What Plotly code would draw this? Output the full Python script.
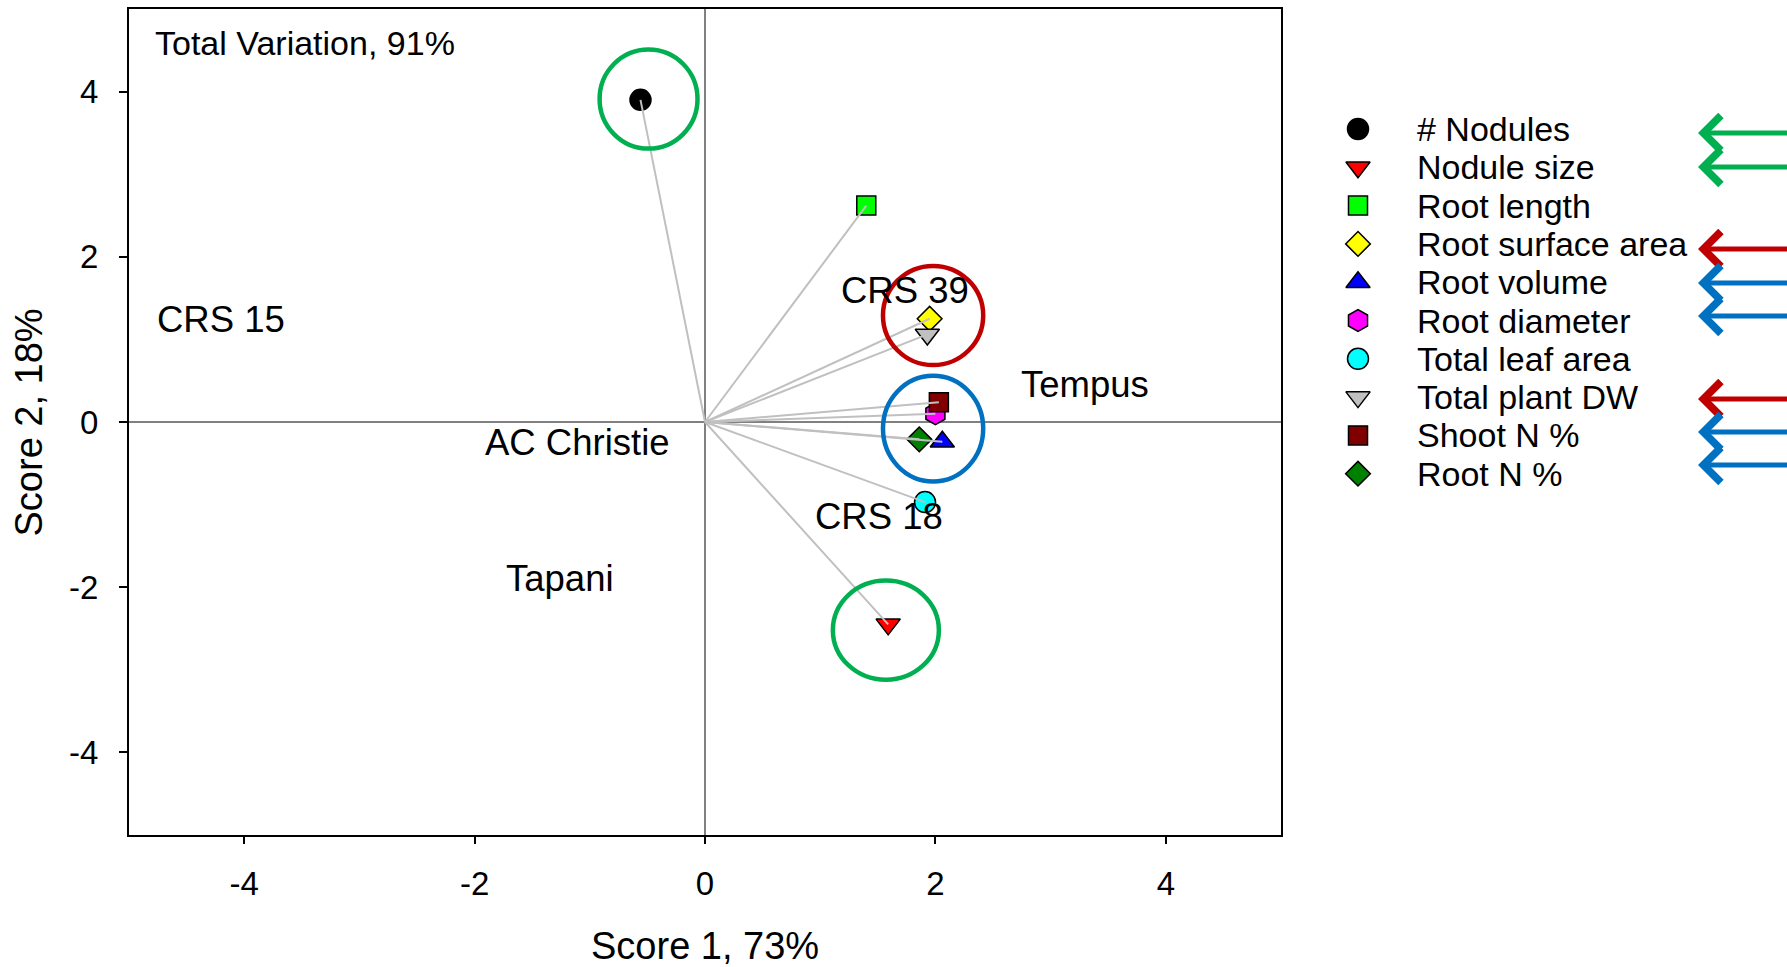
import plotly.graph_objects as go

# ---------------- data ----------------
variables = ["# Nodules", "Nodule size", "Root length", "Root surface area", "Root volume",
             "Root diameter", "Total leaf area", "Total plant DW", "Shoot N %", "Root N %"]
score1 = [-0.56, 1.59, 1.40, 1.95, 2.06, 2.00, 1.91, 1.93, 2.03, 1.86]
score2 = [3.90, -2.45, 2.62, 1.25, -0.24, 0.10, -0.97, 1.06, 0.24, -0.21]
symbols = ["circle", "triangle-down", "square", "diamond", "triangle-up",
           "hexagon", "circle", "triangle-down", "square", "diamond"]
fill_colors = ["#000000", "#FF0000", "#00FF00", "#FFFF00", "#0000FF",
               "#FF00FF", "#00FFFF", "#C0C0C0", "#800000", "#008000"]
arrow_groups = ["green", "green", None, "red", "blue", "blue", None, "red", "blue", "blue"]

cultivars = ["CRS 15", "AC Christie", "Tapani", "CRS 39", "Tempus", "CRS 18"]
cult_x = [-4.20, -1.11, -1.26, 1.74, 3.30, 1.51]
cult_y = [1.235, -0.25, -1.90, 1.59, 0.46, -1.14]

ellipse_cx = [-0.49, 1.57, 1.98, 1.98]
ellipse_cy = [3.91, -2.52, 1.29, -0.08]
ellipse_rx = [0.425, 0.46, 0.435, 0.435]
ellipse_ry = [0.60, 0.60, 0.60, 0.64]
ellipse_group = ["green", "green", "red", "blue"]

tick_vals = [-4, -2, 0, 2, 4]
tick_text = ["-4", "-2", "0", "2", "4"]

x_title = "Score 1, 73%"
y_title = "Score 2, 18%"
note = "Total Variation, 91%"

# ---------------- styles ----------------
W, H = 1787, 967
PL, PR, PT, PB = 129, 1281, 9, 835
FONT = "Liberation Sans, Arial, sans-serif"
group_colors = {"green": "#00B050", "red": "#C00000", "blue": "#0070C0"}
size_map = {"circle": 21, "square": 19, "diamond": 19, "triangle-up": 21,
            "triangle-down": 21, "hexagon": 22}
sizes = [size_map[s] for s in symbols]

fig = go.Figure()

# markers
fig.add_trace(go.Scatter(
    x=score1, y=score2, mode="markers", xaxis="x", yaxis="y",
    marker=dict(symbol=symbols, color=fill_colors, size=sizes, opacity=1,
                line=dict(color="black", width=1.5)),
    showlegend=False, hoverinfo="skip"))

# loading vectors from the origin (drawn over the markers as in the reference)
lx, ly = [], []
for a, b in zip(score1, score2):
    lx += [0, a, None]
    ly += [0, b, None]
fig.add_trace(go.Scatter(x=lx, y=ly, mode="lines", xaxis="x", yaxis="y",
                         line=dict(color="#C0C0C0", width=2),
                         showlegend=False, hoverinfo="skip"))

# manual legend on an overlay pixel axis
LEG_X, LEG_TX, LEG_Y0, LEG_DY = 1358, 1415, 129, 38.3
leg_y = [LEG_Y0 + i * LEG_DY for i in range(len(variables))]
fig.add_trace(go.Scatter(
    x=[LEG_X] * len(variables), y=leg_y, mode="markers", xaxis="x2", yaxis="y2",
    marker=dict(symbol=symbols, color=fill_colors, size=sizes, opacity=1,
                line=dict(color="black", width=1.5)),
    showlegend=False, hoverinfo="skip"))

annotations = []
for name, yy in zip(variables, leg_y):
    annotations.append(dict(x=LEG_TX, y=yy, xref="x2", yref="y2", text=name,
                            showarrow=False, xanchor="left", yanchor="middle",
                            font=dict(family=FONT, size=34, color="black")))

# arrows next to legend
ARROW_Y = {0: 133, 1: 167, 3: 249, 4: 283, 5: 316, 7: 399, 8: 432, 9: 465}
for i, g in enumerate(arrow_groups):
    if g is None:
        continue
    annotations.append(dict(x=1698, y=ARROW_Y[i], xref="x2", yref="y2", ax=1800, ay=ARROW_Y[i],
                            axref="x2", ayref="y2", text="", showarrow=True,
                            arrowhead=4, arrowsize=1.35, arrowwidth=5,
                            arrowcolor=group_colors[g]))

# cultivar labels
for name, xx, yy in zip(cultivars, cult_x, cult_y):
    annotations.append(dict(x=xx, y=yy, xref="x", yref="y", text=name, showarrow=False,
                            xanchor="center", yanchor="middle",
                            font=dict(family=FONT, size=36.5, color="black")))

annotations.append(dict(x=-4.795, y=4.59, xref="x", yref="y", text=note, showarrow=False,
                        xanchor="left", yanchor="middle",
                        font=dict(family=FONT, size=34, color="black")))

# axis titles
annotations.append(dict(x=704.5, y=946, xref="x2", yref="y2", text=x_title, showarrow=False,
                        xanchor="center", yanchor="middle",
                        font=dict(family=FONT, size=38, color="black")))
annotations.append(dict(x=28.5, y=423, xref="x2", yref="y2", text=y_title, showarrow=False,
                        xanchor="center", yanchor="middle", textangle=-90,
                        font=dict(family=FONT, size=38, color="black")))

shapes = []
for cx, cy, rx, ry, g in zip(ellipse_cx, ellipse_cy, ellipse_rx, ellipse_ry, ellipse_group):
    shapes.append(dict(type="circle", xref="x", yref="y",
                       x0=cx - rx, x1=cx + rx, y0=cy - ry, y1=cy + ry,
                       line=dict(color=group_colors[g], width=4.5), layer="above"))

axis_common = dict(showgrid=False, showline=True, linecolor="black", linewidth=2,
                   mirror=True, ticks="outside", tickcolor="black", tickwidth=1.5,
                   zeroline=True, zerolinecolor="#808080", zerolinewidth=1.5,
                   tickvals=tick_vals, ticktext=tick_text,
                   tickfont=dict(family=FONT, size=33, color="black"),
                   fixedrange=True)

fig.update_layout(
    width=W, height=H,
    margin=dict(l=0, r=0, t=0, b=0),
    paper_bgcolor="white", plot_bgcolor="rgba(0,0,0,0)",
    xaxis=dict(range=[-5, 5], domain=[PL / W, PR / W], anchor="y",
               ticklen=7, ticklabelstandoff=11, **axis_common),
    yaxis=dict(range=[-5, 5], domain=[(H - PB) / H, (H - PT) / H], anchor="x",
               ticklen=8, ticklabelstandoff=14, **axis_common),
    xaxis2=dict(range=[0, W], domain=[0, 1], anchor="y2", visible=False, fixedrange=True),
    yaxis2=dict(range=[H, 0], domain=[0, 1], anchor="x2", visible=False, fixedrange=True),
    annotations=annotations, shapes=shapes, showlegend=False,
)

fig.write_html("out.html", config={"displayModeBar": False},
               post_script="document.body.style.margin='0';document.body.style.padding='0';")
